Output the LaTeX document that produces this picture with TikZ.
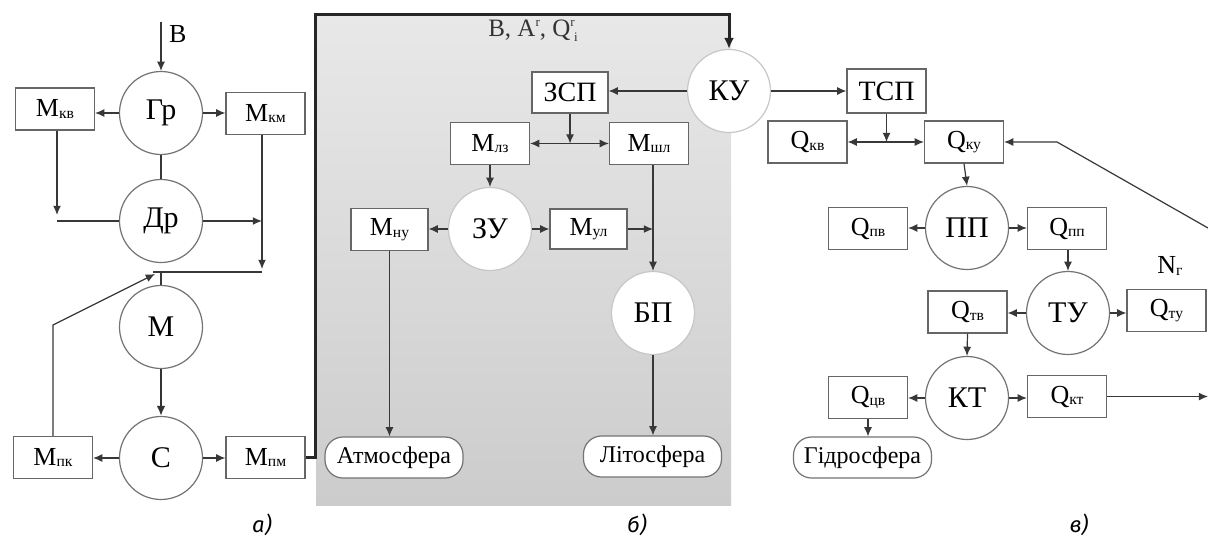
\documentclass[tikz,border=0pt]{standalone}
\usepackage{fontspec}
\setmainfont{Liberation Serif}
\newfontfamily\capfont{Fira Sans}
\usetikzlibrary{arrows.meta,calc}
\newcommand\lo[1]{\raisebox{-0.8pt}{\fontsize{7.8}{7.8}\selectfont#1}}
\newcommand\smr[1]{{\fontsize{6.5}{6.5}\selectfont#1}}
\tikzset{
 ln/.style={draw=black!78, line width=0.6pt},
 arr/.style={ln, -{Latex[length=4.6pt,width=4pt]}},
 arrthick/.style={draw=black!80, line width=1pt, -{Latex[length=5pt,width=4.4pt]}},
 thickln/.style={draw=black!85, line width=1.5pt, -{Latex[length=5.5pt,width=5pt]}},
 box/.style={draw=black!60, fill=white, line width=0.6pt, minimum width=39.5pt, minimum height=21pt, inner sep=0pt, font=\fontsize{13}{13}\selectfont},
 circ/.style={circle, draw=black!55, fill=white, line width=0.6pt, minimum size=41.5pt, inner sep=0pt, font=\fontsize{15}{15}\selectfont},
 circb/.style={circ, draw=black!22},
 pill/.style={draw=black!55, fill=white, line width=0.6pt, rounded corners=9pt, minimum width=69pt, minimum height=20.5pt, inner sep=0pt, font=\fontsize{12}{12}\selectfont},
 captxt/.style={font=\capfont\itshape\fontsize{11}{11}\selectfont},
}
\begin{document}
\begin{tikzpicture}[x=0.5pt,y=-0.5pt]
\useasboundingbox (0,0) rectangle (1208,540);
\fill[white] (0,0) rectangle (1208,540);
\shade[top color=gray!18, middle color=gray!58, bottom color=gray!40] (316,15) rectangle (731,505);

% ---------- panel a
\node[circ] (Gr) at (161,113) {Гр};
\node[circ] (Dr) at (161,221) {Др};
\node[circ] (M) at (161,327) {М};
\node[circ] (C) at (161,458) {С};
\node[box] (Mkv) at (55,109) {М\lo{кв}};
\node[box] (Mkm) at (265.5,113.5) {М\lo{км}};
\node[box] (Mpk) at (53,457.5) {М\lo{пк}};
\node[box] (Mpm) at (265.5,457.5) {М\lo{пм}};
\coordinate (Bin) at (161,22);
\node[anchor=west, font=\fontsize{13}{13}\selectfont] (Blab) at (162,34) {B};
\draw[arr] (Bin) -- (Gr.north);
\draw[arr] (Gr.west) -- (Gr.west -| Mkv.east);
\draw[arr] (Gr.east) -- (Gr.east -| Mkm.west);
\draw[ln] (Gr.south) -- (Dr.north);
\coordinate (a1) at (57,221);
\coordinate (a1t) at (57,215);
\draw[arr] (Mkv.south -| a1) -- (a1t);
\draw[ln] (a1) -- (Dr.west);
\coordinate (a2) at (262,221);
\draw[arr] (Dr.east) -- (a2);
\coordinate (a3) at (262,269);
\coordinate (a4) at (262,272);
\coordinate (a5) at (153,272);
\draw[arr] (Mkm.south -| a2) -- (a3);
\draw[ln] (a4) -- (a5);
\draw[ln] (M.north) -- (M.north |- a4);
\coordinate (a6) at (53,325);
\coordinate (a7) at (155,274);
\draw[arr] (Mpk.north) -- (a6) -- (a7);
\draw[arrthick] (M.south) -- (C.north);
\draw[arr] (C.west) -- (C.west -| Mpk.east);
\draw[arr] (C.east) -- (C.east -| Mpm.west);

% ---------- panel b
\node[circb] (KU) at (729,91) {КУ};
\node[box, minimum width=38pt, minimum height=20.5pt, font=\fontsize{14}{14}\selectfont] (ZSP) at (570,92.5) {ЗСП};
\node[box] (Mlz) at (490,143.5) {М\lo{лз}};
\node[box] (Msl) at (649,143.5) {М\lo{шл}};
\node[circb] (ZU) at (490,229) {ЗУ};
\node[box, minimum width=38.5pt] (Mnu) at (389.5,229.5) {М\lo{ну}};
\node[box, minimum width=38.5pt, minimum height=20pt] (Mul) at (588.5,229) {М\lo{ул}};
\node[circb] (BP) at (653,313) {БП};
\node[pill] (Atm) at (394,457.5) {Атмосфера};
\node[pill] (Lit) at (652.5,456.5) {Літосфера};
\node[font=\fontsize{12.5}{12.5}\selectfont, text=black!80] (Blbl) at (533,31) {B, A\raisebox{0.9ex}{\smr{r}}, Q\raisebox{0.9ex}{\smr{r}}\kern-0.3pt\raisebox{-0.4ex}{\smr{i}}};
\coordinate (t1) at (315,457.5);
\coordinate (t2) at (315,15);
\coordinate (t3) at (729,15);
\draw[thickln] (Mpm.east) -- (t1) -- (t2) -- (t3) -- (KU.north);
\draw[arr] (KU.west) -- (KU.west -| ZSP.east);
\coordinate (b1) at (570,143.5);
\draw[arr] (ZSP.south) -- (b1);
\draw[arr] (b1) -- (Mlz.east);
\draw[arr] (b1) -- (Msl.west);
\draw[arr] (Mlz.south) -- (ZU.north);
\draw[arr] (ZU.west) -- (ZU.west -| Mnu.east);
\draw[arr] (ZU.east) -- (ZU.east -| Mul.west);
\coordinate (b2) at (653,229);
\draw[arr] (Mul.east) -- (b2);
\draw[arr] (BP.north |- Msl.south) -- (BP.north);
\draw[arr] (Mnu.south) -- (Mnu.south |- Atm.north);
\draw[arr] (BP.south) -- (BP.south |- Lit.north);

% ---------- panel c
\node[box, minimum height=22pt, font=\fontsize{14}{14}\selectfont] (TSP) at (886.5,91) {ТСП};
\node[box] (Qkv) at (807.5,142) {Q\lo{кв}};
\node[box] (Qku) at (964,142) {Q\lo{ку}};
\node[circ] (PP) at (967,228) {ПП};
\node[box] (Qpv) at (868,228.5) {Q\lo{пв}};
\node[box] (Qpp) at (1067,228.5) {Q\lo{пп}};
\node[circ] (TU) at (1068,313) {ТУ};
\node[box] (Qtv) at (967.5,312) {Q\lo{тв}};
\node[box] (Qtu) at (1166.5,310.5) {Q\lo{ту}};
\node[circ] (KT) at (967,398) {КТ};
\node[box] (Qcv) at (868,397.5) {Q\lo{цв}};
\node[box] (Qkt) at (1067,396.5) {Q\lo{кт}};
\node[pill] (Gid) at (862.5,457.5) {Гідросфера};
\node[font=\fontsize{13}{13}\selectfont] (Ng) at (1170,266) {N\lo{г}};
\draw[arr] (KU.east) -- (KU.east -| TSP.west);
\coordinate (c1) at (886.5,142);
\draw[arr] (TSP.south) -- (c1);
\draw[arr] (c1) -- (Qkv.east);
\draw[arr] (c1) -- (Qku.west);
\coordinate (c2) at (1208,228);
\coordinate (c3) at (1057,142);
\draw[arr] (c2) -- (c3) -- (Qku.east);
\draw[arr] (Qku.south) -- (PP.north);
\draw[arr] (PP.west) -- (PP.west -| Qpv.east);
\draw[arr] (PP.east) -- (PP.east -| Qpp.west);
\draw[arr] (TU.north |- Qpp.south) -- (TU.north);
\draw[arr] (TU.west) -- (TU.west -| Qtv.east);
\draw[arr] (TU.east) -- (TU.east -| Qtu.west);
\draw[arr] (Qtv.south) -- (KT.north);
\draw[arr] (KT.west) -- (KT.west -| Qcv.east);
\draw[arr] (KT.east) -- (KT.east -| Qkt.west);
\coordinate (c4) at (1208,396.5);
\draw[arr] (Qkt.east) -- (c4);
\draw[arr] (Qcv.south) -- (Qcv.south |- Gid.north);

% ---------- captions
\node[captxt] (la) at (262,525) {а)};
\node[captxt] (lb) at (637,525) {б)};
\node[captxt] (lc) at (1079,525) {в)};
\end{tikzpicture}
\end{document}
